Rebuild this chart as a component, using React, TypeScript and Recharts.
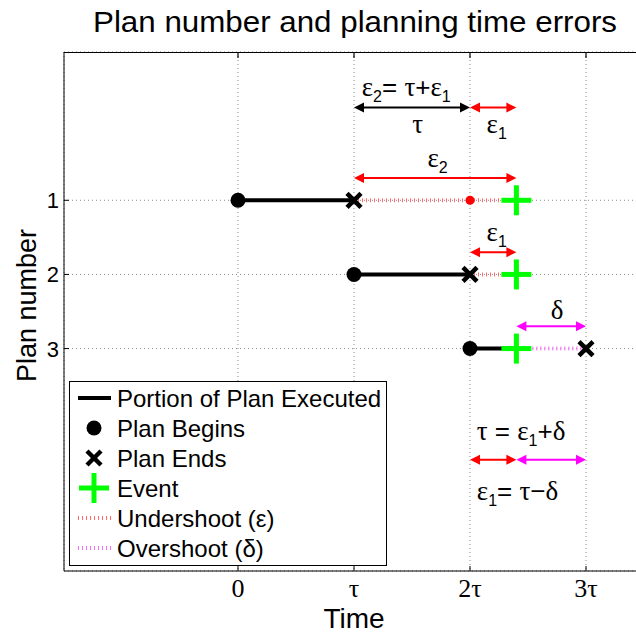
import React from 'react';
import {
  ComposedChart,
  Line,
  Scatter,
  XAxis,
  YAxis,
  CartesianGrid,
  ReferenceLine,
  ReferenceDot,
  Legend,
  Label,
} from 'recharts';

// Time is measured in units of the planning time τ.
const planNumbers = [1, 2, 3];
const planStarts = [0, 1, 2];
const planEnds = [1, 2, 3];
const eventTime = 2.4;
// where plan 2 would have started, marked on plan 1's undershoot
const replanMarks = [{ t: 2, y: 1 }];

const xDomain = [-1.5, 3.5];
const yDomain = [-1, 6];
const xTicks = [0, 1, 2, 3];
const xTickLabels = ['0', 'τ', '2τ', '3τ'];
const yTicks = [1, 2, 3];

// double-headed arrows between two times, at a row height
const arrowSpans = [
  { from: 1, to: 2, y: -0.25, kind: 'tau' },
  { from: 2, to: 2.4, y: -0.25, kind: 'under' },
  { from: 1, to: 2.4, y: 0.7, kind: 'under' },
  { from: 2, to: 2.4, y: 1.7, kind: 'under' },
  { from: 2.4, to: 3, y: 2.7, kind: 'over' },
  { from: 2, to: 2.4, y: 4.5, kind: 'under' },
  { from: 2.4, to: 3, y: 4.5, kind: 'over' },
];

// text notes; "_x" marks a subscript
const notes = [
  { t: 1.45, y: -0.5, text: 'ε_2= τ+ε_1' },
  { t: 1.55, y: 0, text: 'τ' },
  { t: 2.23, y: 0, text: 'ε_1' },
  { t: 1.72, y: 0.45, text: 'ε_2' },
  { t: 2.23, y: 1.46, text: 'ε_1' },
  { t: 2.75, y: 2.5, text: 'δ' },
  { t: 2.44, y: 4.14, text: 'τ = ε_1+δ' },
  { t: 2.41, y: 4.95, text: 'ε_1= τ−δ' },
];

const legendLabels = [
  'Portion of Plan Executed',
  'Plan Begins',
  'Plan Ends',
  'Event',
  'Undershoot (ε)',
  'Overshoot (δ)',
];

const SANS = '"Liberation Sans", Arial, Helvetica, sans-serif';
const SERIF = '"Liberation Serif", "Times New Roman", serif';
const RED = '#ff0000';
const MAGENTA = '#ff00ff';
const GREEN = '#00ff00';
const UNDER = '#ff6b6b';
const OVER = '#ff6bff';
const kindColor: Record<string, string> = { tau: '#000000', under: RED, over: MAGENTA };

// chart layout
const CHART_W = 660;
const CHART_H = 633;
const MARGIN = { top: 52, right: 16, bottom: 0, left: 0 };
const Y_AXIS_W = 64;
const X_AXIS_H = 62;
const PLOT_W = CHART_W - MARGIN.left - MARGIN.right - Y_AXIS_W;
const PLOT_H = CHART_H - MARGIN.top - MARGIN.bottom - X_AXIS_H;

// per-plan series
const rows = planNumbers.map((y, i) => ({ y, start: planStarts[i], end: planEnds[i] }));
const executed = rows.map((r) => [
  { t: r.start, y: r.y },
  { t: Math.min(r.end, eventTime), y: r.y },
]);
const undershoots = rows
  .filter((r) => r.end < eventTime)
  .map((r) => [
    { t: r.end, y: r.y },
    { t: eventTime, y: r.y },
  ]);
const overshoots = rows
  .filter((r) => r.end > eventTime)
  .map((r) => [
    { t: eventTime, y: r.y },
    { t: r.end, y: r.y },
  ]);
const begins = rows.map((r) => ({ t: r.start, y: r.y }));
const ends = rows.map((r) => ({ t: r.end, y: r.y }));
const events = rows.map((r) => ({ t: eventTime, y: r.y }));

const BeginMark = ({ cx, cy }: any) => <circle cx={cx} cy={cy} r={7.5} fill="#000" />;
const ReplanMark = ({ cx, cy }: any) => <circle cx={cx} cy={cy} r={4.5} fill={RED} />;
const EndMark = ({ cx, cy }: any) => (
  <g stroke="#000" strokeWidth={4.5}>
    <line x1={cx - 7} y1={cy - 7} x2={cx + 7} y2={cy + 7} />
    <line x1={cx - 7} y1={cy + 7} x2={cx + 7} y2={cy - 7} />
  </g>
);
const EventMark = ({ cx, cy }: any) => (
  <g stroke={GREEN} strokeWidth={5}>
    <line x1={cx - 15} y1={cy} x2={cx + 15} y2={cy} />
    <line x1={cx} y1={cy - 15} x2={cx} y2={cy + 15} />
  </g>
);

const arrowShape = (color: string) => (p: any) => {
  const { x1, y1, x2, y2 } = p;
  const dir = x2 >= x1 ? 1 : -1;
  const L = 10;
  const W = 5;
  return (
    <g>
      <line x1={x1 + dir * 4} y1={y1} x2={x2 - dir * 4} y2={y2} stroke={color} strokeWidth={2} />
      <polygon points={`${x1},${y1} ${x1 + dir * L},${y1 - W} ${x1 + dir * L},${y1 + W}`} fill={color} />
      <polygon points={`${x2},${y2} ${x2 - dir * L},${y2 - W} ${x2 - dir * L},${y2 + W}`} fill={color} />
    </g>
  );
};

// greek letters in the serif face, subscripts dropped and shrunk
function richText(text: string, size: number) {
  const parts: React.ReactNode[] = [];
  let shift = 0;
  for (let i = 0; i < text.length; i++) {
    let ch = text[i];
    let sub = false;
    if (ch === '_') {
      sub = true;
      i++;
      ch = text[i];
    }
    const want = sub ? 6 : 0;
    const greek = 'ετδ'.includes(ch);
    parts.push(
      <tspan
        key={i}
        dy={want - shift}
        fontFamily={greek ? SERIF : SANS}
        fontSize={sub ? 16 : greek ? size + 1 : size}
      >
        {ch}
      </tspan>
    );
    shift = want;
  }
  return parts;
}

const noteShape = (text: string) => (p: any) => (
  <text x={p.cx} y={p.cy + 7} textAnchor="middle" fill="#000" fontSize={26} style={{ whiteSpace: 'pre' }}>
    {richText(text, 26)}
  </text>
);

// inward tick marks at the bottom and top edges, label below
const BottomTick = ({ x, y, payload }: any) => (
  <g>
    <line x1={x} x2={x} y1={y} y2={y - 5} stroke="#000" />
    <line x1={x} x2={x} y1={y - PLOT_H} y2={y - PLOT_H + 6} stroke="#000" strokeWidth={1.2} />
    <text x={x} y={y + 26} textAnchor="middle" fontFamily={SERIF} fontSize={26} fill="#000">
      {xTickLabels[xTicks.indexOf(payload.value)]}
    </text>
  </g>
);

const LeftTick = ({ x, y, payload }: any) => (
  <g>
    <line x1={x} x2={x + 5} y1={y} y2={y} stroke="#000" />
    <text x={x - 5} y={y + 8} textAnchor="end" fontFamily={SANS} fontSize={22} fill="#000">
      {payload.value}
    </text>
  </g>
);

const TimeLabel = ({ viewBox }: any) => (
  <text x={viewBox.x + viewBox.width / 2} y={viewBox.y + 57} textAnchor="middle" fontFamily={SANS} fontSize={28} fill="#000">
    Time
  </text>
);

const PlanLabel = ({ viewBox }: any) => (
  <text
    transform={`translate(${viewBox.x + 36},${viewBox.y + viewBox.height / 2 - 6}) rotate(-90)`}
    textAnchor="middle"
    fontFamily={SANS}
    fontSize={27}
    fill="#000"
  >
    Plan number
  </text>
);

function LegendBox() {
  const cx = 24;
  const rowY = (i: number) => 16 + 30 * i;
  const symbols = [
    <line x1={8} x2={41} y1={rowY(0)} y2={rowY(0)} stroke="#000" strokeWidth={4} />,
    <circle cx={cx} cy={rowY(1)} r={7.5} fill="#000" />,
    <EndMark cx={cx} cy={rowY(2)} />,
    <EventMark cx={cx} cy={rowY(3)} />,
    <line x1={8} x2={41} y1={rowY(4)} y2={rowY(4)} stroke={UNDER} strokeWidth={4} strokeDasharray="1 3" />,
    <line x1={8} x2={41} y1={rowY(5)} y2={rowY(5)} stroke={OVER} strokeWidth={4} strokeDasharray="1 3" />,
  ];
  return (
    <div style={{ width: 318, height: 185, border: '1px solid #000', background: '#fff', boxSizing: 'border-box' }}>
      <svg width={316} height={183}>
        {legendLabels.map((label, i) => (
          <g key={label}>
            {symbols[i]}
            <text x={47} y={rowY(i) + 8.5} fontFamily={SANS} fontSize={24} fill="#000">
              {label}
            </text>
          </g>
        ))}
      </svg>
    </div>
  );
}

export default function App() {
  return (
    <div
      style={{
        position: 'absolute',
        left: 0,
        top: 0,
        width: 636,
        height: 633,
        overflow: 'hidden',
        background: '#fff',
        fontFamily: SANS,
      }}
    >
      <ComposedChart width={CHART_W} height={CHART_H} margin={MARGIN}>
        <CartesianGrid stroke="#8a8a8a" strokeDasharray="1 3" />
        <XAxis
          dataKey="t"
          type="number"
          domain={xDomain}
          ticks={xTicks}
          allowDataOverflow
          height={X_AXIS_H}
          tickSize={0}
          tickMargin={0}
          tick={<BottomTick />}
          axisLine={{ stroke: '#000' }}
        >
          <Label content={<TimeLabel />} />
        </XAxis>
        <YAxis
          dataKey="y"
          type="number"
          domain={yDomain}
          ticks={yTicks}
          reversed
          allowDataOverflow
          width={Y_AXIS_W}
          tickSize={0}
          tickMargin={0}
          tick={<LeftTick />}
          axisLine={{ stroke: '#000' }}
        >
          <Label content={<PlanLabel />} />
        </YAxis>

        {undershoots.map((d, i) => (
          <Line
            key={`u${i}`}
            data={d}
            dataKey="y"
            stroke={UNDER}
            strokeWidth={4}
            strokeDasharray="1 3"
            dot={false}
            activeDot={false}
            legendType="none"
            isAnimationActive={false}
          />
        ))}
        {overshoots.map((d, i) => (
          <Line
            key={`o${i}`}
            data={d}
            dataKey="y"
            stroke={OVER}
            strokeWidth={4}
            strokeDasharray="1 3"
            dot={false}
            activeDot={false}
            legendType="none"
            isAnimationActive={false}
          />
        ))}
        {executed.map((d, i) => (
          <Line
            key={`e${i}`}
            data={d}
            dataKey="y"
            stroke="#000"
            strokeWidth={4}
            dot={false}
            activeDot={false}
            legendType="none"
            isAnimationActive={false}
          />
        ))}
        <Scatter data={replanMarks} dataKey="y" shape={ReplanMark} legendType="none" isAnimationActive={false} />
        <Scatter data={begins} dataKey="y" shape={BeginMark} legendType="none" isAnimationActive={false} />
        <Scatter data={ends} dataKey="y" shape={EndMark} legendType="none" isAnimationActive={false} />
        <Scatter data={events} dataKey="y" shape={EventMark} legendType="none" isAnimationActive={false} />

        {arrowSpans.map((a, i) => (
          <ReferenceLine
            key={`a${i}`}
            segment={[
              { x: a.from, y: a.y },
              { x: a.to, y: a.y },
            ]}
            shape={arrowShape(kindColor[a.kind])}
          />
        ))}
        {notes.map((n, i) => (
          <ReferenceDot key={`n${i}`} x={n.t} y={n.y} r={0} shape={noteShape(n.text)} />
        ))}

        <Legend
          layout="horizontal"
          verticalAlign="middle"
          align="center"
          content={<LegendBox />}
          wrapperStyle={{ left: 69, top: 381, width: 318, height: 185 }}
        />
      </ComposedChart>
      {/* solid top edge of the axes box */}
      <div
        style={{
          position: 'absolute',
          left: MARGIN.left + Y_AXIS_W,
          top: MARGIN.top,
          width: PLOT_W,
          height: 0,
          borderTop: '1px solid #000',
          zIndex: 10,
          pointerEvents: 'none',
        }}
      />
      <svg
        width={636}
        height={MARGIN.top - 4}
        style={{ position: 'absolute', left: 0, top: 0, pointerEvents: 'none' }}
      >
        <text
          x={355}
          y={32}
          textAnchor="middle"
          fontFamily={SANS}
          fontSize={30}
          textLength={524}
          lengthAdjust="spacingAndGlyphs"
          fill="#000"
        >
          Plan number and planning time errors
        </text>
      </svg>
    </div>
  );
}
